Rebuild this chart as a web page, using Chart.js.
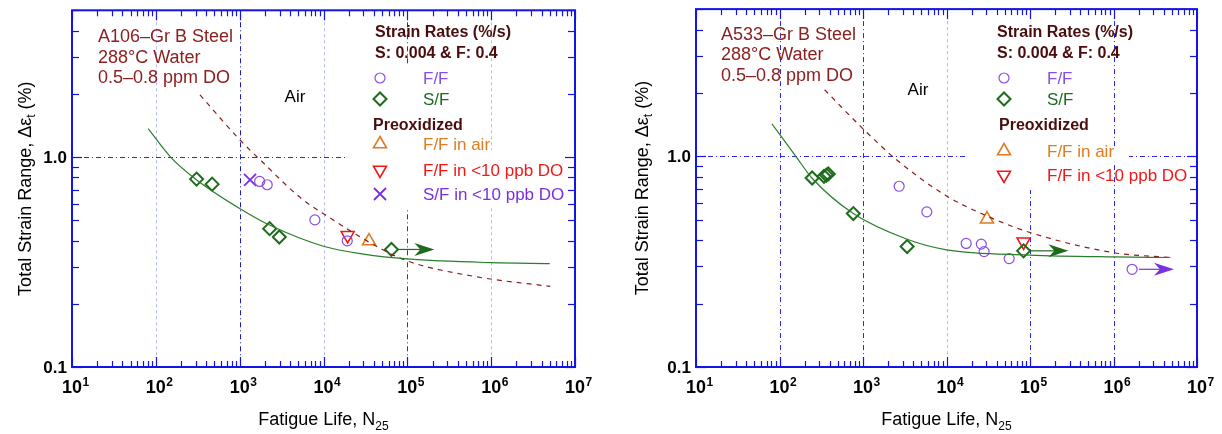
<!DOCTYPE html>
<html>
<head>
<meta charset="utf-8">
<title>Fatigue life of A106 and A533 steels in 288°C water</title>
<script src="https://cdn.jsdelivr.net/npm/chart.js"></script>
<style>
  html, body { margin: 0; padding: 0; background: #fff; }
  #wrap { position: relative; width: 1222px; height: 434px; overflow: hidden; }
  #wrap canvas { position: absolute; top: 0; }
</style>
</head>
<body>
<div id="wrap">
  <canvas id="a106" width="611" height="434" style="left:0"></canvas>
  <canvas id="a533" width="611" height="434" style="left:611px"></canvas>
</div>
<script>
// axes
const xDecades = [10, 100, 1000, 10000, 100000, 1000000, 10000000];
const xTickExp = ['1', '2', '3', '4', '5', '6', '7'];
const yTickValues = [0.1, 1.0];
const yTickLabels = ['0.1', '1.0'];
const yMinorTicks = [0.2, 0.3, 0.4, 0.5, 0.6, 0.7, 0.8, 0.9, 2, 3, 4, 5];

// A106-Gr B steel (left)
const a106FFN = [1730, 2130, 7890, 19200];
const a106FFRange = [0.765, 0.738, 0.502, 0.399];
const a106SFN = [306, 469, 2280, 2970, 64700];
const a106SFRange = [0.785, 0.743, 0.456, 0.416, 0.363];
const a106PreAirN = [34900];
const a106PreAirRange = [0.398];
const a106PreLowN = [19400];
const a106PreLowRange = [0.424];
const a106PreSFN = [1330];
const a106PreSFRange = [0.779];
const a106WaterN = [81, 150, 310, 1000, 2300, 10000, 30000, 100000, 1000000, 5000000];
const a106WaterRange = [1.365, 1.0, 0.776, 0.569, 0.473, 0.376, 0.345, 0.327, 0.314, 0.311];
const a106AirN = [336, 1000, 1815, 5510, 10000, 44300, 100000, 631000, 5060000];
const a106AirRange = [1.977, 1.21, 0.957, 0.632, 0.537, 0.373, 0.32, 0.27, 0.242];
const a106RunoutFrom = [64700];
const a106RunoutTo = [210000];
const a106RunoutRange = [0.363];

// A533-Gr B steel (right)
const a533FFN = [2710, 5810, 17200, 26100, 28200, 56300, 1670000];
const a533FFRange = [0.721, 0.545, 0.386, 0.383, 0.353, 0.327, 0.291];
const a533SFN = [246, 341, 365, 384, 766, 3376, 83800];
const a533SFRange = [0.789, 0.804, 0.815, 0.825, 0.535, 0.373, 0.356];
const a533PreAirN = [30500];
const a533PreAirRange = [0.503];
const a533PreLowN = [83800];
const a533PreLowRange = [0.393];
const a533WaterN = [81, 157, 246, 766, 3376, 10000, 100000, 1000000, 4800000];
const a533WaterRange = [1.428, 1.0, 0.787, 0.535, 0.404, 0.36, 0.34, 0.333, 0.331];
const a533AirN = [347, 980, 2630, 10000, 30500, 100000, 1000000, 4800000];
const a533AirRange = [2.07, 1.362, 0.95, 0.649, 0.521, 0.435, 0.349, 0.331];
const a533RunoutFrom = [83800, 1670000];
const a533RunoutTo = [288000, 5300000];
const a533RunoutRange = [0.356, 0.291];

const FONT = '"Liberation Sans", Arial, Helvetica, sans-serif';
const BLUE = '#1414e6';
const C = {
    ff: '#8a4de8', sf: '#1d6b1d', air: '#e07b20', low: '#f01818', sfLow: '#7a30e0',
    water: '#2b7d2b', airCurve: '#8c1c1c', note: '#8c2020', head: '#4a0c0c'
};

// marker styles shared by data and legend
const M = {
    ff:    { pointStyle: 'circle',   radius: 5,   bw: 1.2, rot: 0,   color: C.ff },
    sf:    { pointStyle: 'rectRot',  radius: 6.5, bw: 2,   rot: 0,   color: C.sf },
    air:   { pointStyle: 'triangle', radius: 7.5, bw: 1.6, rot: 0,   color: C.air },
    low:   { pointStyle: 'triangle', radius: 7.5, bw: 1.6, rot: 180, color: C.low },
    sfLow: { pointStyle: 'crossRot', radius: 8.5, bw: 1.8, rot: 0,   color: C.sfLow }
};

function pts(xs, ys) { return xs.map((v, i) => ({ x: v, y: ys[i] })); }

function markers(label, xs, ys, m) {
    return {
        label, data: pts(xs, ys), showLine: false,
        pointStyle: m.pointStyle, pointRadius: m.radius, pointBorderWidth: m.bw,
        pointRotation: m.rot, pointBorderColor: m.color, borderColor: m.color,
        pointBackgroundColor: 'rgba(0,0,0,0)', backgroundColor: 'rgba(0,0,0,0)'
    };
}

function curve(label, xs, ys, color, dash) {
    return {
        label, data: pts(xs, ys), showLine: true, pointRadius: 0,
        borderColor: color, borderWidth: 1.2, borderDash: dash || [],
        cubicInterpolationMode: 'monotone', fill: false
    };
}

function line(ctx, x0, y0, x1, y1) {
    ctx.beginPath(); ctx.moveTo(x0, y0); ctx.lineTo(x1, y1); ctx.stroke();
}

// parts: [text, font, dy]
function richText(ctx, parts, x, y, center) {
    let w = 0;
    parts.forEach(p => { ctx.font = p[1]; w += ctx.measureText(p[0]).width; });
    let cx = center ? x - w / 2 : x;
    ctx.textAlign = 'left';
    parts.forEach(p => {
        ctx.font = p[1];
        ctx.fillText(p[0], cx, y + (p[2] || 0));
        cx += ctx.measureText(p[0]).width;
    });
}

function drawMarker(ctx, m, x, y) {
    ctx.save();
    ctx.strokeStyle = m.color;
    ctx.fillStyle = 'rgba(0,0,0,0)';
    ctx.lineWidth = m.bw;
    Chart.helpers.drawPoint(ctx, { pointStyle: m.pointStyle, radius: m.radius, rotation: m.rot, borderWidth: m.bw }, x, y);
    ctx.restore();
}

function arrow(ctx, x0, x1, y, color) {
    ctx.strokeStyle = color; ctx.fillStyle = color; ctx.lineWidth = 1.2;
    line(ctx, x0, y, x1 - 10, y);
    ctx.beginPath();
    ctx.moveTo(x1, y); ctx.lineTo(x1 - 20, y - 6.5); ctx.lineTo(x1 - 14, y); ctx.lineTo(x1 - 20, y + 6.5);
    ctx.closePath(); ctx.fill();
}

function panelPlugin(p) {
    return {
        id: 'panel_' + p.key,
        beforeDatasetsDraw(chart) {
            const { ctx, chartArea: a, scales: { x, y } } = chart;
            ctx.save();
            ctx.lineWidth = 1;
            xDecades.slice(1, -1).forEach((v, i) => {
                const px = Math.round(x.getPixelForValue(v)) + 0.5;
                const st = p.grid[i];
                ctx.strokeStyle = st === 'pale' ? '#b4b8f4' : (st === 'dark' ? '#1a1ab0' : '#2a2ae6');
                ctx.setLineDash(st === 'pale' ? [3, 3] : [5, 3, 1, 3]);
                line(ctx, px, a.top, px, a.bottom);
            });
            const py = Math.round(y.getPixelForValue(1)) + 0.5;
            ctx.strokeStyle = '#2a2ae6';
            ctx.setLineDash([5, 3, 1, 3]);
            line(ctx, a.left, py, a.right, py);
            ctx.setLineDash([]);
            ctx.fillStyle = '#fff';
            p.blanks.forEach(r => ctx.fillRect(r[0], r[1], r[2] - r[0], r[3] - r[1]));
            ctx.restore();
        },
        afterDatasetsDraw(chart) {
            const { ctx, chartArea: a, scales: { x, y } } = chart;
            ctx.save();
            // run-out arrows
            p.runFrom.forEach((n, i) => {
                const yy = y.getPixelForValue(p.runRange[i]);
                arrow(ctx, x.getPixelForValue(n) + 7, x.getPixelForValue(p.runTo[i]), yy, p.runColor[i]);
            });

            // frame and ticks
            ctx.strokeStyle = BLUE;
            ctx.lineWidth = 1.2;
            for (let d = 0; d < xDecades.length - 1; d++) {
                for (let k = 2; k <= 9; k++) {
                    const px = Math.round(x.getPixelForValue(k * xDecades[d])) + 0.5;
                    line(ctx, px, a.bottom, px, a.bottom - 6);
                    line(ctx, px, a.top, px, a.top + 6);
                }
            }
            xDecades.forEach(v => {
                const px = Math.round(x.getPixelForValue(v)) + 0.5;
                line(ctx, px, a.bottom, px, a.bottom - 10);
                line(ctx, px, a.top, px, a.top + 10);
            });
            yMinorTicks.forEach(v => {
                const py = Math.round(y.getPixelForValue(v)) + 0.5;
                line(ctx, a.left, py, a.left + 7, py);
                line(ctx, a.right, py, a.right - 7, py);
            });
            yTickValues.forEach(v => {
                const py = Math.round(y.getPixelForValue(v)) + 0.5;
                line(ctx, a.left, py, a.left + 10, py);
                line(ctx, a.right, py, a.right - 10, py);
            });
            ctx.lineWidth = 2;
            ctx.strokeRect(a.left, a.top, a.right - a.left, a.bottom - a.top);

            // tick labels
            ctx.fillStyle = '#000';
            ctx.textBaseline = 'alphabetic';
            xDecades.forEach((v, i) => {
                const px = x.getPixelForValue(v);
                ctx.font = 'bold 18px ' + FONT;
                const w = ctx.measureText('10').width;
                ctx.textAlign = 'center';
                ctx.fillText('10', px, a.bottom + 26);
                ctx.font = 'bold 12px ' + FONT;
                ctx.textAlign = 'left';
                ctx.fillText(xTickExp[i], px + w / 2 + 0.5, a.bottom + 19);
            });
            ctx.font = 'bold 17px ' + FONT;
            ctx.textAlign = 'right';
            ctx.textBaseline = 'middle';
            yTickValues.forEach((v, i) => ctx.fillText(yTickLabels[i], a.left - 5, y.getPixelForValue(v) + 1));

            // axis titles
            ctx.textBaseline = 'alphabetic';
            richText(ctx, [['Fatigue Life, N', '18px ' + FONT], ['25', '12px ' + FONT, 5]], (a.left + a.right) / 2, 425, true);
            ctx.save();
            ctx.translate(p.yTitleX, (a.top + a.bottom) / 2);
            ctx.rotate(-Math.PI / 2);
            richText(ctx, [['Total Strain Range, \u0394\u03b5', '18px ' + FONT], ['t', '12px ' + FONT, 4], [' (%)', '18px ' + FONT]], 0, 0, true);
            ctx.restore();

            // material notes
            ctx.fillStyle = C.note;
            ctx.font = '18px ' + FONT;
            ctx.textAlign = 'left';
            p.notes.forEach(n => ctx.fillText(n[0], p.noteX, n[1]));
            ctx.fillStyle = '#000';
            ctx.font = '17px ' + FONT;
            ctx.textAlign = 'center';
            ctx.fillText('Air', p.airLabel[0], p.airLabel[1]);

            // legend
            ctx.textAlign = 'left';
            ctx.fillStyle = C.head;
            ctx.font = 'bold 16px ' + FONT;
            p.heads.forEach(h => ctx.fillText(h[0], h[1], h[2]));
            ctx.font = '17px ' + FONT;
            p.rows.forEach(r => {
                drawMarker(ctx, r.m, p.markX, r.y);
                ctx.fillStyle = r.m.color;
                ctx.fillText(r.label, p.labelX, r.y + 6);
            });
            ctx.restore();
        }
    };
}

function makeChart(id, datasets, pad, p) {
    return new Chart(document.getElementById(id), {
        type: 'scatter',
        data: { datasets },
        options: {
            responsive: false,
            animation: false,
            events: [],
            layout: { padding: pad },
            plugins: { legend: { display: false }, tooltip: { enabled: false } },
            scales: {
                x: { type: 'logarithmic', min: 10, max: 10000000, display: false },
                y: { type: 'logarithmic', min: 0.1, max: 5, display: false }
            }
        },
        plugins: [panelPlugin(p)]
    });
}

makeChart('a106', [
    curve('Water', a106WaterN, a106WaterRange, C.water),
    curve('Air', a106AirN, a106AirRange, C.airCurve, [5, 5]),
    markers('F/F', a106FFN, a106FFRange, M.ff),
    markers('S/F', a106SFN, a106SFRange, M.sf),
    markers('F/F in air', a106PreAirN, a106PreAirRange, M.air),
    markers('F/F in <10 ppb DO', a106PreLowN, a106PreLowRange, M.low),
    markers('S/F in <10 ppb DO', a106PreSFN, a106PreSFRange, M.sfLow)
], { left: 72, top: 7, right: 36, bottom: 67 }, {
    key: 'a106',
    grid: ['pale', 'dark', 'pale', 'mid', 'pale'],
    blanks: [[345, 64, 470, 150], [345, 150, 574, 208]],
    runFrom: a106RunoutFrom, runTo: a106RunoutTo, runRange: a106RunoutRange, runColor: [C.sf],
    yTitleX: 31,
    noteX: 98,
    notes: [['A106\u2013Gr B Steel', 42], ['288\u00b0C Water', 63], ['0.5\u20130.8 ppm DO', 83]],
    airLabel: [295, 102],
    heads: [['Strain Rates (%/s)', 375, 37], ['S: 0.004 & F: 0.4', 375, 58], ['Preoxidized', 373, 130]],
    markX: 380, labelX: 423,
    rows: [
        { m: M.ff, label: 'F/F', y: 78 },
        { m: M.sf, label: 'S/F', y: 99 },
        { m: M.air, label: 'F/F in air', y: 144 },
        { m: M.low, label: 'F/F in <10 ppb DO', y: 170 },
        { m: M.sfLow, label: 'S/F in <10 ppb DO', y: 194 }
    ]
});

makeChart('a533', [
    curve('Water', a533WaterN, a533WaterRange, C.water),
    curve('Air', a533AirN, a533AirRange, C.airCurve, [5, 5]),
    markers('F/F', a533FFN, a533FFRange, M.ff),
    markers('S/F', a533SFN, a533SFRange, M.sf),
    markers('F/F in air', a533PreAirN, a533PreAirRange, M.air),
    markers('F/F in <10 ppb DO', a533PreLowN, a533PreLowRange, M.low)
], { left: 85, top: 7, right: 25, bottom: 67 }, {
    key: 'a533',
    grid: ['mid', 'mid', 'pale', 'mid', 'mid'],
    blanks: [[354, 20, 489, 190], [489, 148, 518, 162]],
    runFrom: a533RunoutFrom, runTo: a533RunoutTo, runRange: a533RunoutRange, runColor: [C.sf, C.sfLow],
    yTitleX: 37,
    noteX: 110,
    notes: [['A533\u2013Gr B Steel', 40], ['288\u00b0C Water', 60], ['0.5\u20130.8 ppm DO', 81]],
    airLabel: [307, 95],
    heads: [['Strain Rates (%/s)', 386, 37], ['S: 0.004 & F: 0.4', 386, 58], ['Preoxidized', 388, 130]],
    markX: 393, labelX: 436,
    rows: [
        { m: M.ff, label: 'F/F', y: 78 },
        { m: M.sf, label: 'S/F', y: 99 },
        { m: M.air, label: 'F/F in air', y: 151 },
        { m: M.low, label: 'F/F in <10 ppb DO', y: 175 }
    ]
});
</script>
</body>
</html>
